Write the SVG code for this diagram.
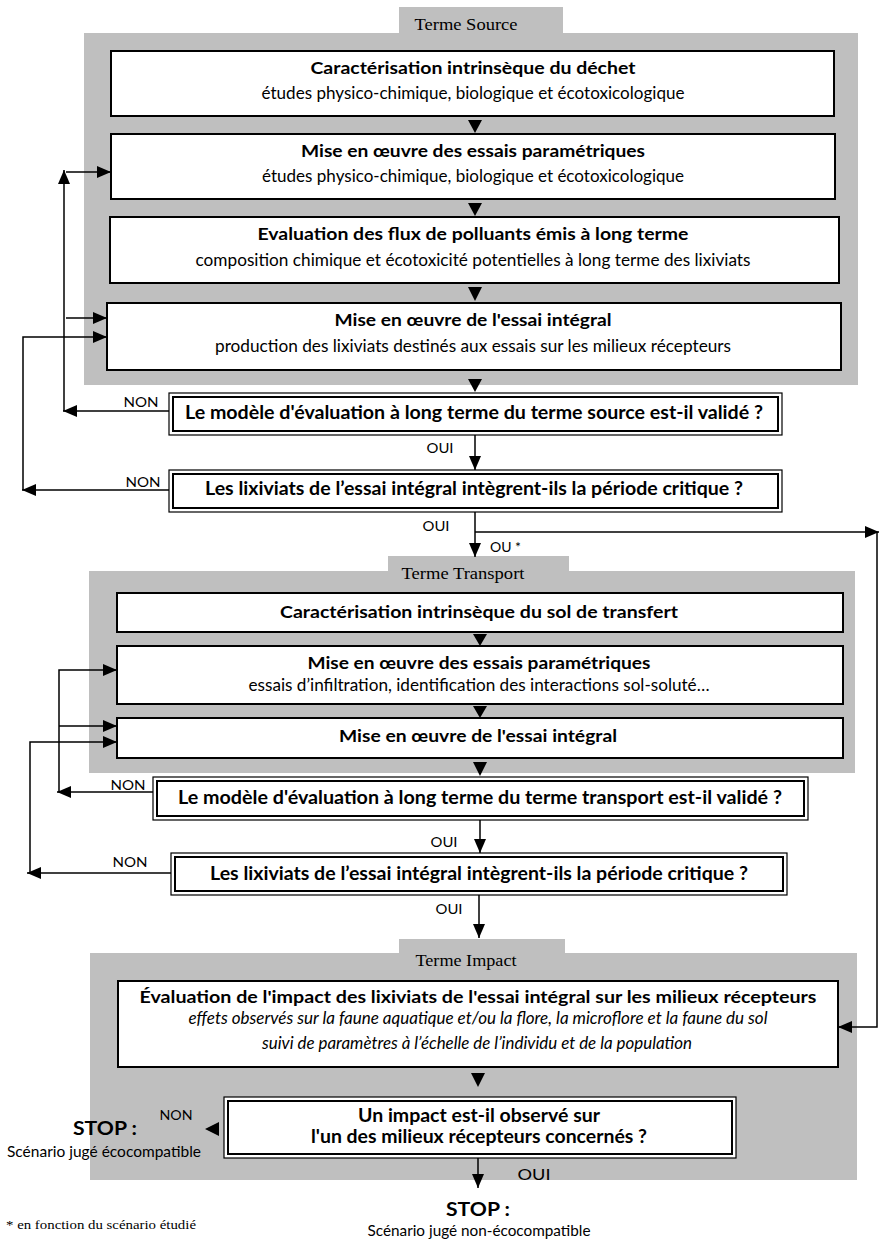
<svg xmlns="http://www.w3.org/2000/svg" width="879" height="1240" viewBox="0 0 879 1240">
<style>
.panel{fill:#bfbfbf;stroke:none}
.box{fill:#fff;stroke:#000;stroke-width:2}
.dout{fill:#fff;stroke:#000;stroke-width:1.2}
.din{fill:none;stroke:#000;stroke-width:2}
.t{font-family:Lato,"Liberation Sans",sans-serif;font-weight:bold;font-size:17.5px;fill:#000;text-anchor:middle}
.d{font-family:Lato,"Liberation Sans",sans-serif;font-weight:bold;font-size:18.5px;fill:#000;text-anchor:middle}
.s{font-family:Lato,"Liberation Sans",sans-serif;font-size:16.5px;fill:#000;text-anchor:middle}
.i{font-family:Lato,"Liberation Sans",sans-serif;font-style:italic;font-size:16.5px;fill:#000;text-anchor:middle}
.lab{font-family:Lato,"Liberation Sans",sans-serif;font-size:14px;fill:#000;text-anchor:middle}
.tab{font-family:"Liberation Serif",serif;font-size:17px;fill:#000;text-anchor:middle}
.c{fill:none;stroke:#000;stroke-width:1.5}
.tri{fill:#000}
</style>
<defs>
<marker id="ah" markerUnits="userSpaceOnUse" markerWidth="14" markerHeight="12" refX="14" refY="6" orient="auto">
<path d="M0,0 L14,6 L0,12 z" fill="#000"/>
</marker>
</defs>

<!-- panels -->
<g id="panel-source">
<rect class="panel" x="399" y="7" width="164" height="30"/>
<rect class="panel" x="84" y="33" width="774" height="352"/>
<text class="tab" x="466" y="30" textLength="103" lengthAdjust="spacingAndGlyphs">Terme Source</text>
</g>
<g id="panel-transport">
<rect class="panel" x="388" y="556" width="181" height="20"/>
<rect class="panel" x="89" y="571" width="766" height="202"/>
<text class="tab" x="463" y="579" textLength="123" lengthAdjust="spacingAndGlyphs">Terme Transport</text>
</g>
<g id="panel-impact">
<rect class="panel" x="399" y="939" width="166" height="20"/>
<rect class="panel" x="90" y="953" width="767" height="227"/>
<text class="tab" x="466" y="966" textLength="101" lengthAdjust="spacingAndGlyphs">Terme Impact</text>
</g>

<!-- Source nodes -->
<g id="s1">
<rect class="box" x="111" y="51" width="723" height="65"/>
<text class="t" x="473" y="74" textLength="325" lengthAdjust="spacingAndGlyphs">Caractérisation intrinsèque du déchet</text>
<text class="s" x="473" y="99" textLength="423" lengthAdjust="spacingAndGlyphs">études physico-chimique, biologique et écotoxicologique</text>
</g>
<g id="s2">
<rect class="box" x="111" y="134" width="724" height="65"/>
<text class="t" x="473" y="157" textLength="344" lengthAdjust="spacingAndGlyphs">Mise en œuvre des essais paramétriques</text>
<text class="s" x="473" y="182" textLength="422" lengthAdjust="spacingAndGlyphs">études physico-chimique, biologique et écotoxicologique</text>
</g>
<g id="s3">
<rect class="box" x="110" y="217" width="729" height="66"/>
<text class="t" x="473" y="240" textLength="431" lengthAdjust="spacingAndGlyphs">Evaluation des flux de polluants émis à long terme</text>
<text class="s" x="473" y="266" textLength="555" lengthAdjust="spacingAndGlyphs">composition chimique et écotoxicité potentielles à long terme des lixiviats</text>
</g>
<g id="s4">
<rect class="box" x="107" y="303" width="734" height="67"/>
<text class="t" x="473" y="326" textLength="277" lengthAdjust="spacingAndGlyphs">Mise en œuvre de l'essai intégral</text>
<text class="s" x="473" y="352" textLength="516" lengthAdjust="spacingAndGlyphs">production des lixiviats destinés aux essais sur les milieux récepteurs</text>
</g>
<g id="sd1">
<rect class="dout" x="169" y="393" width="613" height="42"/>
<rect class="din" x="173" y="397" width="605" height="34"/>
<text class="d" x="474" y="419" textLength="578" lengthAdjust="spacingAndGlyphs">Le modèle d'évaluation à long terme du terme source est-il validé ?</text>
</g>
<g id="sd2">
<rect class="dout" x="169" y="470" width="613" height="42"/>
<rect class="din" x="173" y="474" width="605" height="34"/>
<text class="d" x="474" y="495" textLength="538" lengthAdjust="spacingAndGlyphs">Les lixiviats de l’essai intégral intègrent-ils la période critique ?</text>
</g>

<!-- Transport nodes -->
<g id="t1">
<rect class="box" x="117" y="593" width="726" height="39"/>
<text class="t" x="479" y="618" textLength="398" lengthAdjust="spacingAndGlyphs">Caractérisation intrinsèque du sol de transfert</text>
</g>
<g id="t2">
<rect class="box" x="117" y="646" width="726" height="58"/>
<text class="t" x="479" y="669" textLength="343" lengthAdjust="spacingAndGlyphs">Mise en œuvre des essais paramétriques</text>
<text class="s" x="479" y="691" textLength="461" lengthAdjust="spacingAndGlyphs">essais d’infiltration, identification des interactions sol-soluté…</text>
</g>
<g id="t3">
<rect class="box" x="117" y="718" width="726" height="40"/>
<text class="t" x="478" y="742" textLength="278" lengthAdjust="spacingAndGlyphs">Mise en œuvre de l'essai intégral</text>
</g>
<g id="td1">
<rect class="dout" x="153" y="777" width="655" height="43"/>
<rect class="din" x="157" y="781" width="647" height="35"/>
<text class="d" x="480" y="804" textLength="604" lengthAdjust="spacingAndGlyphs">Le modèle d'évaluation à long terme du terme transport est-il validé ?</text>
</g>
<g id="td2">
<rect class="dout" x="171" y="853" width="616" height="42"/>
<rect class="din" x="175" y="857" width="608" height="34"/>
<text class="d" x="479" y="880" textLength="538" lengthAdjust="spacingAndGlyphs">Les lixiviats de l’essai intégral intègrent-ils la période critique ?</text>
</g>

<!-- Impact nodes -->
<g id="i1">
<rect class="box" x="118" y="981" width="720" height="86"/>
<text class="t" x="478" y="1003" textLength="677" lengthAdjust="spacingAndGlyphs">Évaluation de l'impact des lixiviats de l'essai intégral sur les milieux récepteurs</text>
<text class="i" x="478" y="1024" textLength="579" lengthAdjust="spacingAndGlyphs">effets observés sur la faune aquatique et/ou la flore, la microflore et la faune du sol</text>
<text class="i" x="477" y="1049" textLength="430" lengthAdjust="spacingAndGlyphs">suivi de paramètres à l’échelle de l’individu et de la population</text>
</g>
<g id="id1">
<rect class="dout" x="224" y="1097" width="512" height="61"/>
<rect class="din" x="228" y="1101" width="504" height="53"/>
<text class="d" x="479" y="1122" textLength="242" lengthAdjust="spacingAndGlyphs">Un impact est-il observé sur</text>
<text class="d" x="479" y="1143" textLength="336" lengthAdjust="spacingAndGlyphs">l'un des milieux récepteurs concernés ?</text>
</g>

<!-- end labels -->
<g id="stop-left">
<text x="105" y="1135" textLength="64" lengthAdjust="spacingAndGlyphs" style="font-family:Lato,'Liberation Sans',sans-serif;font-weight:bold;font-size:18px;text-anchor:middle">STOP :</text>
<text x="104" y="1157" textLength="194" lengthAdjust="spacingAndGlyphs" style="font-family:Lato,'Liberation Sans',sans-serif;font-size:15px;text-anchor:middle">Scénario jugé écocompatible</text>
</g>
<g id="stop-bottom">
<text x="478" y="1216" textLength="64" lengthAdjust="spacingAndGlyphs" style="font-family:Lato,'Liberation Sans',sans-serif;font-weight:bold;font-size:18px;text-anchor:middle">STOP :</text>
<text x="479" y="1236" textLength="223" lengthAdjust="spacingAndGlyphs" style="font-family:Lato,'Liberation Sans',sans-serif;font-size:15px;text-anchor:middle">Scénario jugé non-écocompatible</text>
</g>
<g id="footnote">
<text x="6" y="1229" textLength="190" lengthAdjust="spacingAndGlyphs" style="font-family:'Liberation Serif',serif;font-size:13.5px">* en fonction du scénario étudié</text>
</g>

<!-- connectors -->
<g id="connectors">
<path class="tri" d="M468,120 L482,120 L475,133 z"/>
<path class="tri" d="M468,203 L482,203 L475,216 z"/>
<path class="tri" d="M468,287 L482,287 L475,301 z"/>
<path class="tri" d="M468,379 L482,379 L475,392 z"/>
<path class="tri" d="M473,634 L487,634 L480,646 z"/>
<path class="tri" d="M473,706 L487,706 L480,718 z"/>
<path class="tri" d="M473,762 L487,762 L480,776 z"/>
<path class="tri" d="M471,1073 L485,1073 L478,1087 z"/>
<path class="tri" d="M219,1122 L219,1136 L205,1129 z"/>

<line class="c" x1="475" y1="435" x2="475" y2="470" marker-end="url(#ah)"/>
<line class="c" x1="475" y1="512" x2="475" y2="557" marker-end="url(#ah)"/>
<polyline class="c" points="475,532 879,532" marker-end="url(#ah)"/>
<polyline class="c" points="877,532 877,1027 838,1027" marker-end="url(#ah)"/>

<line class="c" x1="169" y1="411" x2="63" y2="411" marker-end="url(#ah)"/>
<line class="c" x1="64" y1="411" x2="64" y2="170" marker-end="url(#ah)"/>
<line class="c" x1="66" y1="172" x2="111" y2="172" marker-end="url(#ah)"/>
<line class="c" x1="66" y1="318" x2="107" y2="318" marker-end="url(#ah)"/>
<line class="c" x1="169" y1="490" x2="22" y2="490" marker-end="url(#ah)"/>
<polyline class="c" points="23,490 23,337 107,337" marker-end="url(#ah)"/>

<line class="c" x1="480" y1="820" x2="480" y2="853" marker-end="url(#ah)"/>
<line class="c" x1="479" y1="895" x2="479" y2="938" marker-end="url(#ah)"/>
<line class="c" x1="153" y1="792" x2="57" y2="792" marker-end="url(#ah)"/>
<polyline class="c" points="59,792 59,670 117,670" marker-end="url(#ah)"/>
<line class="c" x1="59" y1="726" x2="117" y2="726" marker-end="url(#ah)"/>
<line class="c" x1="171" y1="873" x2="27" y2="873" marker-end="url(#ah)"/>
<polyline class="c" points="30,873 30,742 117,742" marker-end="url(#ah)"/>

<line class="c" x1="478" y1="1158" x2="478" y2="1188" marker-end="url(#ah)"/>

<text class="lab" x="141" y="407" textLength="35" lengthAdjust="spacingAndGlyphs">NON</text>
<text class="lab" x="440" y="453" textLength="27" lengthAdjust="spacingAndGlyphs">OUI</text>
<text class="lab" x="143" y="487" textLength="35" lengthAdjust="spacingAndGlyphs">NON</text>
<text class="lab" x="436" y="531" textLength="27" lengthAdjust="spacingAndGlyphs">OUI</text>
<text class="lab" x="490" y="552" style="text-anchor:start">OU *</text>
<text class="lab" x="128" y="790" textLength="35" lengthAdjust="spacingAndGlyphs">NON</text>
<text class="lab" x="444" y="847" textLength="27" lengthAdjust="spacingAndGlyphs">OUI</text>
<text class="lab" x="130" y="867" textLength="35" lengthAdjust="spacingAndGlyphs">NON</text>
<text class="lab" x="449" y="914" textLength="27" lengthAdjust="spacingAndGlyphs">OUI</text>
<text class="lab" x="176" y="1120" textLength="33" lengthAdjust="spacingAndGlyphs">NON</text>
<text class="lab" x="534" y="1180" textLength="33" lengthAdjust="spacingAndGlyphs" style="font-size:16px">OUI</text>
</g>
</svg>
